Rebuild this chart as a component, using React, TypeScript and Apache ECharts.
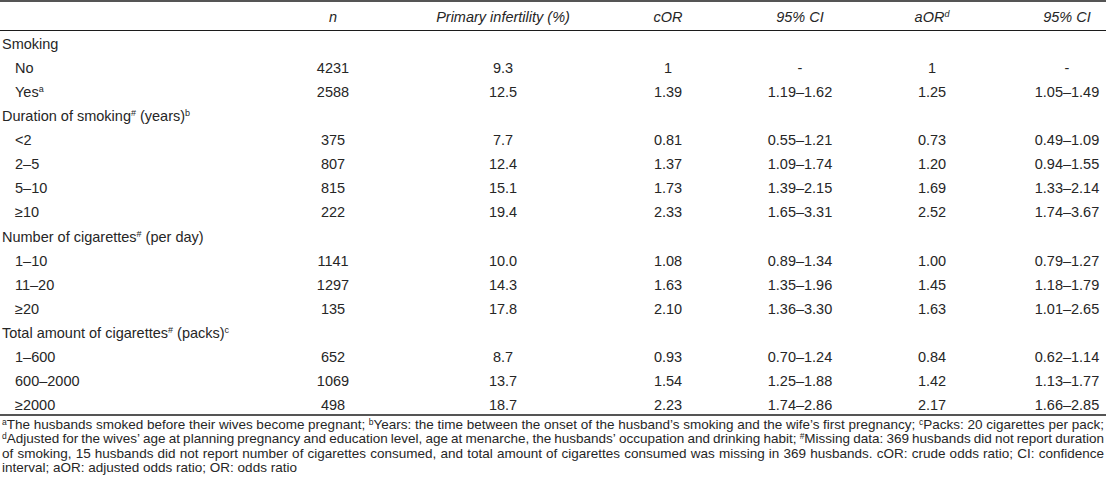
import React, { useEffect, useRef } from "react";
import * as echarts from "echarts";

// ---------- data ----------
const headerLabels = ["", "n", "Primary infertility (%)", "cOR", "95% CI", "aOR{sup|d}", "95% CI"];

const rowLabels = [
  "Smoking",
  "No",
  "Yes{sup|a}",
  "Duration of smoking{sup|#} (years){sup|b}",
  "<2",
  "2–5",
  "5–10",
  "≥10",
  "Number of cigarettes{sup|#} (per day)",
  "1–10",
  "11–20",
  "≥20",
  "Total amount of cigarettes{sup|#} (packs){sup|c}",
  "1–600",
  "600–2000",
  "≥2000",
];
const rowIsGroup = [true, false, false, true, false, false, false, false, true, false, false, false, true, false, false, false];

const nValues = [null, 4231, 2588, null, 375, 807, 815, 222, null, 1141, 1297, 135, null, 652, 1069, 498];
const infertilityPct = [null, 9.3, 12.5, null, 7.7, 12.4, 15.1, 19.4, null, 10.0, 14.3, 17.8, null, 8.7, 13.7, 18.7];
const cORValues = [null, 1, 1.39, null, 0.81, 1.37, 1.73, 2.33, null, 1.08, 1.63, 2.1, null, 0.93, 1.54, 2.23];
const cCIValues = [null, "-", "1.19–1.62", null, "0.55–1.21", "1.09–1.74", "1.39–2.15", "1.65–3.31", null, "0.89–1.34", "1.35–1.96", "1.36–3.30", null, "0.70–1.24", "1.25–1.88", "1.74–2.86"];
const aORValues = [null, 1, 1.25, null, 0.73, 1.2, 1.69, 2.52, null, 1.0, 1.45, 1.63, null, 0.84, 1.42, 2.17];
const aCIValues = [null, "-", "1.05–1.49", null, "0.49–1.09", "0.94–1.55", "1.33–2.14", "1.74–3.67", null, "0.79–1.27", "1.18–1.79", "1.01–2.65", null, "0.62–1.14", "1.13–1.77", "1.66–2.85"];

const footnoteLines = [
  "{sup|a}The husbands smoked before their wives become pregnant; {sup|b}Years: the time between the onset of the husband’s smoking and the wife’s first pregnancy; {sup|c}Packs: 20 cigarettes per pack;",
  "{sup|d}Adjusted for the wives’ age at planning pregnancy and education level, age at menarche, the husbands’ occupation and drinking habit; {sup|#}Missing data: 369 husbands did not report duration",
  "of smoking, 15 husbands did not report number of cigarettes consumed, and total amount of cigarettes consumed was missing in 369 husbands. cOR: crude odds ratio; CI: confidence",
  "interval; aOR: adjusted odds ratio; OR: odds ratio",
];

// ---------- layout ----------
const W = 1106;
const H = 495;
const FONT = "'Liberation Sans', Arial, sans-serif";
const TEXT = "#262626";
const BODY_SIZE = 14.5;
const SUP_SIZE = 9;
const FOOT_SIZE = 13.5;
const FOOT_SUP = 8.5;
const colX = [2, 333, 503, 668, 800, 932, 1067];
const indent = 15;

const richSup = (size: number) => ({
  sup: { fontSize: size, fontFamily: FONT, fill: TEXT, verticalAlign: "top" as const },
});

function fmtOR(v: number | null, ci: string | null) {
  if (v == null) return "";
  if (ci === "-") return String(v);
  return v.toFixed(2);
}

let measureCtx: CanvasRenderingContext2D | null = null;
function measureRich(s: string, size: number, supSize: number) {
  if (!measureCtx) measureCtx = document.createElement("canvas").getContext("2d");
  const ctx = measureCtx!;
  const re = /\{sup\|([^}]*)\}/g;
  let w = 0;
  let last = 0;
  let m: RegExpExecArray | null;
  while ((m = re.exec(s))) {
    ctx.font = `${size}px ${FONT}`;
    w += ctx.measureText(s.slice(last, m.index)).width;
    ctx.font = `${supSize}px ${FONT}`;
    w += ctx.measureText(m[1]).width;
    last = re.lastIndex;
  }
  ctx.font = `${size}px ${FONT}`;
  w += ctx.measureText(s.slice(last)).width;
  return w;
}

function buildFootnotes() {
  const els: any[] = [];
  const left = 2;
  const right = 1104;
  const y0 = 424;
  const dy = 14.5;
  footnoteLines.forEach((line, li) => {
    const words = line.split(" ");
    const widths = words.map((w) => measureRich(w, FOOT_SIZE, FOOT_SUP));
    const total = widths.reduce((a, b) => a + b, 0);
    const justify = li < footnoteLines.length - 1;
    const spaceW = measureRich(" ", FOOT_SIZE, FOOT_SUP);
    const gap = justify && words.length > 1 ? (right - left - total) / (words.length - 1) : spaceW;
    let x = left;
    words.forEach((w, wi) => {
      els.push({
        type: "text",
        x,
        y: y0 + li * dy,
        silent: true,
        style: {
          text: w,
          fontSize: FOOT_SIZE,
          fontFamily: FONT,
          fill: TEXT,
          align: "left",
          verticalAlign: "middle",
          rich: richSup(FOOT_SUP),
        },
      });
      x += widths[wi] + gap;
    });
  });
  return els;
}

export default function App() {
  const ref = useRef<HTMLDivElement>(null);

  useEffect(() => {
    if (!ref.current) return;
    const chart = echarts.init(ref.current, null, { renderer: "svg" });

    const headerEls = headerLabels
      .map((t, k) =>
        t
          ? {
              type: "text",
              x: colX[k],
              y: 17,
              silent: true,
              style: {
                text: t,
                fontSize: BODY_SIZE,
                fontStyle: "italic",
                fontFamily: FONT,
                fill: TEXT,
                align: "center",
                verticalAlign: "middle",
                rich: { sup: { fontSize: SUP_SIZE, fontStyle: "italic", fontFamily: FONT, fill: TEXT, verticalAlign: "top" } },
              },
            }
          : null
      )
      .filter(Boolean);

    const ruleLines = [
      { y: 1, w: 1.6 },
      { y: 30.5, w: 1.2 },
      { y: 415, w: 1.4 },
    ].map((l) => ({
      type: "line",
      silent: true,
      shape: { x1: 0, y1: l.y, x2: W, y2: l.y },
      style: { stroke: "#1c1c1c", lineWidth: l.w },
    }));

    chart.setOption({
      animation: false,
      backgroundColor: "#ffffff",
      grid: { left: 0, right: 0, top: 32, bottom: H - 417 },
      xAxis: { type: "value", min: 0, max: W, show: false },
      yAxis: { type: "category", data: rowLabels, inverse: true, show: false },
      series: [
        {
          type: "custom",
          silent: true,
          data: rowLabels.map((_, i) => [0, i]),
          renderItem: (params: any, api: any) => {
            const i = api.value(1) as number;
            const y = api.coord([0, i])[1];
            const group = rowIsGroup[i];
            const children: any[] = [
              {
                type: "text",
                style: {
                  x: group ? colX[0] : indent,
                  y,
                  text: rowLabels[i],
                  fontSize: BODY_SIZE,
                  fontFamily: FONT,
                  fill: TEXT,
                  align: "left",
                  verticalAlign: "middle",
                  rich: richSup(SUP_SIZE),
                },
              },
            ];
            if (!group) {
              const cells = [
                String(nValues[i]),
                (infertilityPct[i] as number).toFixed(1),
                fmtOR(cORValues[i], cCIValues[i]),
                cCIValues[i] as string,
                fmtOR(aORValues[i], aCIValues[i]),
                aCIValues[i] as string,
              ];
              cells.forEach((t, k) => {
                children.push({
                  type: "text",
                  style: {
                    x: colX[k + 1],
                    y,
                    text: t,
                    fontSize: BODY_SIZE,
                    fontFamily: FONT,
                    fill: TEXT,
                    align: "center",
                    verticalAlign: "middle",
                  },
                });
              });
            }
            return { type: "group", children };
          },
        },
      ],
      graphic: [...ruleLines, ...headerEls, ...buildFootnotes()],
    });

    return () => chart.dispose();
  }, []);

  return (
    <div
      ref={ref}
      style={{ position: "absolute", left: 0, top: 0, width: W, height: H, background: "#fff" }}
    />
  );
}
